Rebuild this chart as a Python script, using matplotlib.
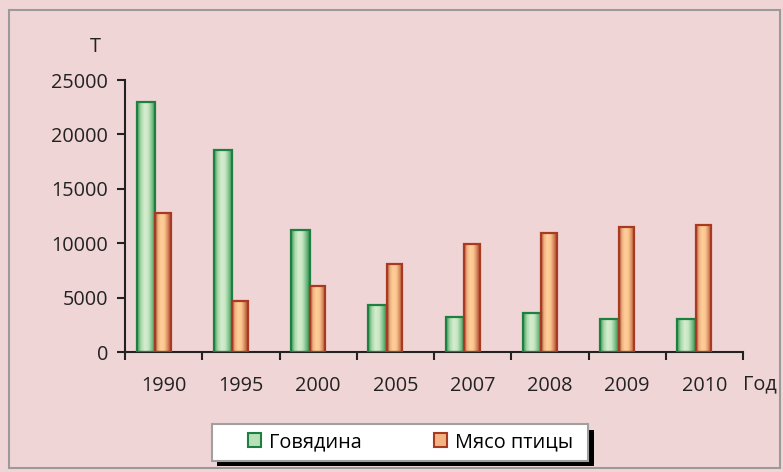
import matplotlib
matplotlib.use("Agg")
import matplotlib.pyplot as plt
import numpy as np
from matplotlib.patches import Patch, Rectangle
from matplotlib.colors import LinearSegmentedColormap

years = ["1990", "1995", "2000", "2005", "2007", "2008", "2009", "2010"]
beef = [23000, 18600, 11200, 4300, 3200, 3600, 3000, 3000]
poultry = [12800, 4700, 6100, 8100, 9900, 10900, 11500, 11700]
yticks = [0, 5000, 10000, 15000, 20000, 25000]

bg = "#F0D5D6"
plt.rcParams['font.family'] = ['Open Sans', 'DejaVu Sans']
FS = 14.3
W, H = 783, 472

fig = plt.figure(figsize=(7.83, 4.72), dpi=100, facecolor=bg)
def frect(x0, y0, x1, y1, **kw):
    fig.patches.append(Rectangle((x0/W, 1-y1/H), (x1-x0)/W, (y1-y0)/H, transform=fig.transFigure, **kw))

frect(9, 10, 780, 468, fill=False, edgecolor="#9A9A9A", linewidth=1.5)
# legend box with black shadow
frect(217, 430, 594, 466, facecolor="black", edgecolor="none")
frect(212, 424, 588, 461, facecolor="white", edgecolor="#A0A0A0", linewidth=1.5)

ax = fig.add_axes([125/W, 1-352/H, 618/W, 272/H])
ax.set_facecolor(bg)

green_cmap = LinearSegmentedColormap.from_list("g", ["#3E9A5A", "#A8D8A8", "#D6EDD0", "#C8E6C2", "#7CC08A", "#2E8A4C"])
orange_cmap = LinearSegmentedColormap.from_list("o", ["#B3563A", "#F2B483", "#FFD09A", "#F9C48E", "#D88A60", "#A9462C"])
grad = np.linspace(0, 1, 64).reshape(1, -1)

x = np.arange(len(years))
def draw(vals, left_off, width, cmap, edge):
    bars = ax.bar(x + left_off + width/2, vals, width=width, color="none", edgecolor=edge, linewidth=1.6, zorder=3)
    for b in bars:
        bx, by = b.get_x(), b.get_y()
        w, h = b.get_width(), b.get_height()
        im = ax.imshow(grad, cmap=cmap, extent=[bx, bx + w, by, by + h], aspect="auto", zorder=2)
        im.set_clip_path(b)
    return bars

draw(beef, -0.35, 0.24, green_cmap, "#1E8040")
draw(poultry, -0.11, 0.20, orange_cmap, "#A83A22")

ax.set_xlim(-0.5, len(years) - 0.5)
ax.set_ylim(0, 25000)
ax.set_yticks(yticks)
ax.set_yticklabels([str(v) for v in yticks], fontsize=FS, color="#222222")
ax.set_xticks(x)
ax.set_xticklabels(years, fontsize=FS, color="#222222")
ax.set_xticks(np.arange(len(years) + 1) - 0.5, minor=True)
ax.tick_params(axis="x", which="major", length=0, pad=17)
ax.tick_params(axis="x", which="minor", length=6, width=1.5, color="#222222", direction="out")
ax.tick_params(axis="y", length=6, width=1.5, color="#222222", direction="out", pad=6)
for s in ["top", "right"]:
    ax.spines[s].set_visible(False)
for s in ["left", "bottom"]:
    ax.spines[s].set_color("#222222")
    ax.spines[s].set_linewidth(1.5)

fig.text(95/W, 1-47/H, "T", fontsize=FS, ha="center", va="center", color="#222222")
fig.text(760/W, 1-384/H, "Год", fontsize=FS, ha="center", va="center", color="#222222")

handles = [Patch(facecolor="#B8E0B8", edgecolor="#1E8040", linewidth=1.5, label="Говядина"),
           Patch(facecolor="#F2B483", edgecolor="#A83A22", linewidth=1.5, label="Мясо птицы")]
leg = fig.legend(handles=handles, loc="center left", bbox_to_anchor=(248/W, 1-442/H), ncol=2,
                 fontsize=FS, frameon=False,
                 handlelength=0.65, handleheight=0.65, handletextpad=0.4, columnspacing=3.65,
                 borderpad=0, borderaxespad=0)

fig.savefig("out.png", dpi=100, facecolor=bg)
